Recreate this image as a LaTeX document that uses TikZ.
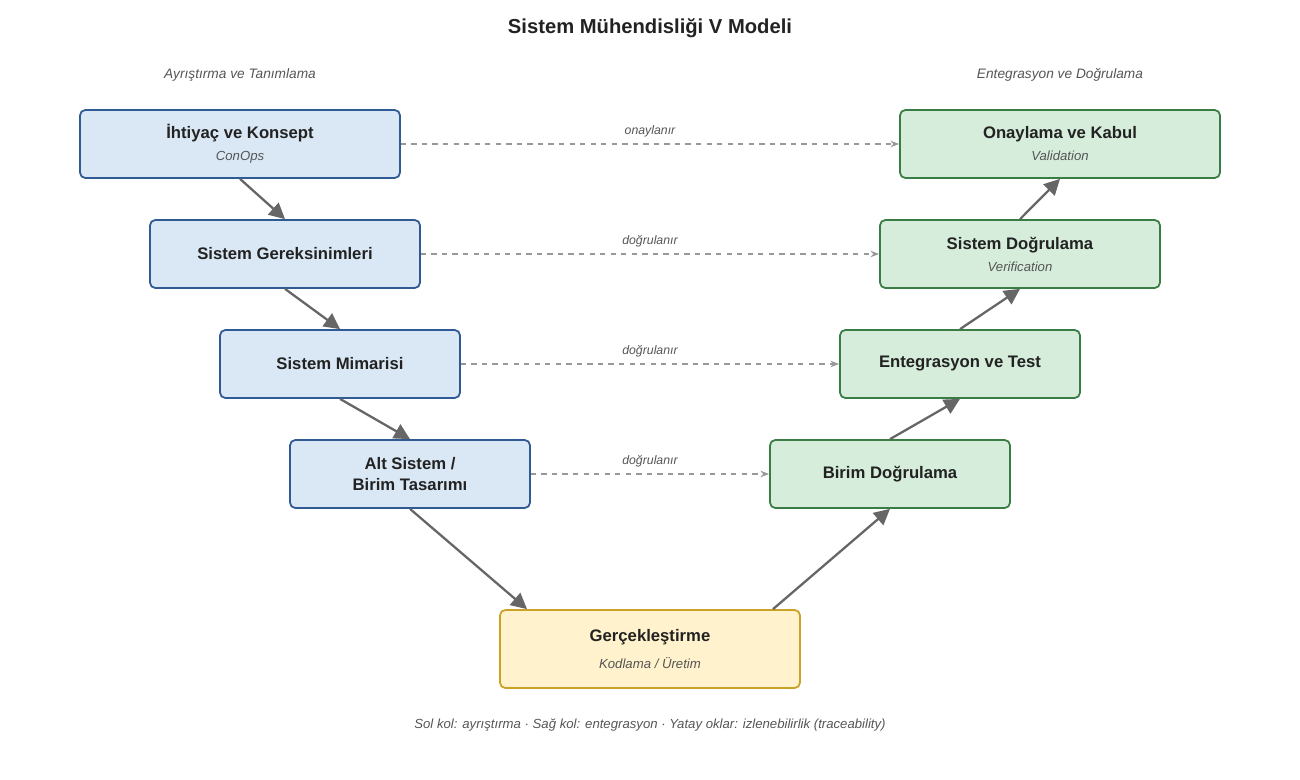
\documentclass[tikz,border=0pt]{standalone}
\usepackage{fontspec}
\setmainfont{Liberation Sans}
\usetikzlibrary{arrows.meta}
\definecolor{leftfill}{HTML}{DAE8F5}
\definecolor{leftdraw}{HTML}{2F5A93}
\definecolor{rightfill}{HTML}{D5EDDA}
\definecolor{rightdraw}{HTML}{3A7D44}
\definecolor{implfill}{HTML}{FFF2CC}
\definecolor{impldraw}{HTML}{C9A227}
\definecolor{textdark}{HTML}{222222}
\definecolor{textgray}{HTML}{555555}

\begin{document}
\begin{tikzpicture}[x=0.02cm, y=-0.02cm]
    \tikzset{box_style/.style = {rounded corners=3pt, line width=1pt, align=center,
        minimum height=1.36cm, text=textdark, font=\fontsize{9.5}{11.5}\selectfont\bfseries}}
    \tikzset{left_style/.style = {box_style, fill=leftfill, draw=leftdraw}}
    \tikzset{right_style/.style = {box_style, fill=rightfill, draw=rightdraw}}
    \tikzset{flow_style/.style = {-{Triangle[length=9pt, width=9pt]}, line width=1.3pt, color=textgray!90}}
    \tikzset{trace_style/.style = {-{Stealth[length=5pt]}, dashed, line width=0.7pt, color=gray!80}}
    \tikzset{trace_label/.style = {above, font=\fontsize{7}{8}\selectfont\itshape, text=textgray}}
    \newcommand{\sub}[1]{\\[1pt]{\fontsize{7.5}{9}\selectfont\mdseries\itshape\color{textgray}#1}}

    \useasboundingbox (0,0) rectangle (1300,780);

    % title and column headings
    \node[font=\fontsize{11.5}{13}\selectfont\bfseries, text=textdark] (title) at (650,28) {Sistem Mühendisliği V Modeli};
    \node[font=\fontsize{7.8}{9}\selectfont\itshape, text=textgray] (lhead) at (240,75) {Ayrıştırma ve Tanımlama};
    \node[font=\fontsize{7.8}{9}\selectfont\itshape, text=textgray] (rhead) at (1060,75) {Entegrasyon ve Doğrulama};

    % left leg
    \node[left_style, minimum width=6.4cm] (need) at (240,144) {İhtiyaç ve Konsept\sub{ConOps}};
    \node[left_style, minimum width=5.4cm] (req) at (285,254) {Sistem Gereksinimleri};
    \node[left_style, minimum width=4.8cm] (arch) at (340,364) {Sistem Mimarisi};
    \node[left_style, minimum width=4.8cm] (unit) at (410,474) {Alt Sistem /\\Birim Tasarımı};

    % bottom
    \node[box_style, fill=implfill, draw=impldraw, minimum width=6cm, minimum height=1.56cm] (impl) at (650,649)
        {Gerçekleştirme\\[4pt]{\fontsize{7.5}{9}\selectfont\mdseries\itshape\color{textgray}Kodlama / Üretim}};

    % right leg
    \node[right_style, minimum width=4.8cm] (uver) at (890,474) {Birim Doğrulama};
    \node[right_style, minimum width=4.8cm] (integ) at (960,364) {Entegrasyon ve Test};
    \node[right_style, minimum width=5.6cm] (sver) at (1020,254) {Sistem Doğrulama\sub{Verification}};
    \node[right_style, minimum width=6.4cm] (valid) at (1060,144) {Onaylama ve Kabul\sub{Validation}};

    % V flow
    \draw[flow_style] (need.south) -- (req.north);
    \draw[flow_style] (req.south) -- (arch.north);
    \draw[flow_style] (arch.south) -- (unit.north);
    \draw[flow_style] (unit.south) -- ([xshift=-70] impl.north);
    \draw[flow_style] ([xshift=70] impl.north) -- (uver.south);
    \draw[flow_style] (uver.north) -- (integ.south);
    \draw[flow_style] (integ.north) -- (sver.south);
    \draw[flow_style] (sver.north) -- (valid.south);

    % traceability
    \draw[trace_style] (need.east) -- node[trace_label] {onaylanır} (valid.west);
    \draw[trace_style] (req.east) -- node[trace_label] {doğrulanır} (sver.west);
    \draw[trace_style] (arch.east) -- node[trace_label] {doğrulanır} (integ.west);
    \draw[trace_style] (unit.east) -- node[trace_label] {doğrulanır} (uver.west);

    \node[font=\fontsize{7.5}{9}\selectfont\itshape, text=textgray] (foot) at (650,725)
        {Sol kol: ayrıştırma · Sağ kol: entegrasyon · Yatay oklar: izlenebilirlik (traceability)};
\end{tikzpicture}
\end{document}
